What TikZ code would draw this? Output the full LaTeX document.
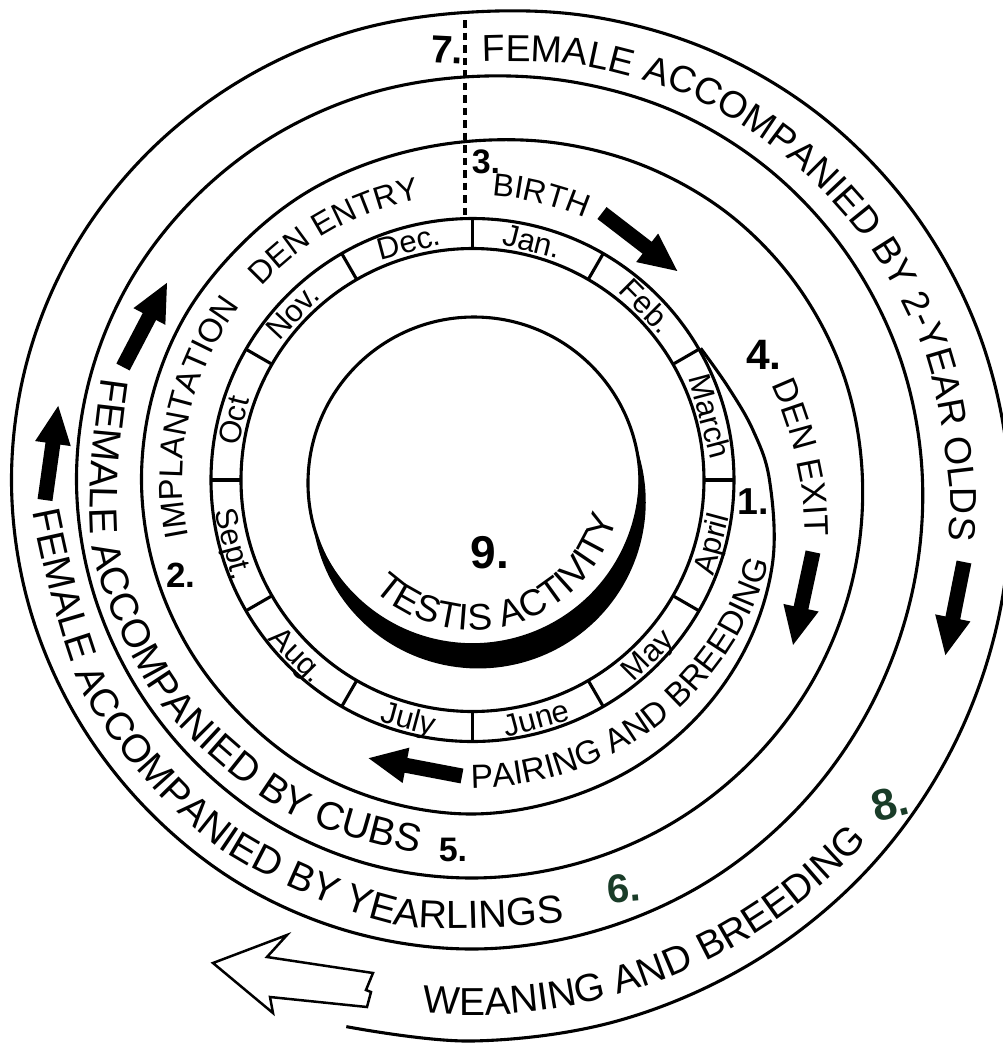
\documentclass[tikz,border=0pt]{standalone}
\usepackage{fontspec}
\setmainfont{Liberation Sans}
\usetikzlibrary{decorations.text}
\definecolor{handgreen}{RGB}{25,60,40}
\newcommand\fs[1]{\fontsize{#1}{#1}\selectfont}
\tikzset{
  ring/.style={line width=0.62pt, line join=round},
  month/.style={font=\fs{6.2}, inner sep=0pt, text height=4.4pt, text depth=0pt},
  hand/.style={font=\fs{#1}\bfseries, inner sep=0pt},
  curvetext/.style={decorate, decoration={text along path, text align=center, text={#1}}},
  blackarrow/.pic={\fill (0,-7.5) -- (57,-7.5) -- (57,-18) -- (95,0) -- (57,18) -- (57,7.5) -- (0,7.5) -- cycle;},
}
\begin{document}
\begin{tikzpicture}[x=0.2pt,y=0.2pt]
\useasboundingbox (-472.5,-565) rectangle (530.5,480);
\clip (-472.5,-565) rectangle (530.5,480);
\fill[white] (-472.5,-565) rectangle (530.5,480);
\coordinate (C) at (0,0);
% month ring
\draw[ring] (C) circle[radius=261.5];
\draw[ring] (C) circle[radius=231.5];
\foreach \a in {0,30,...,330} \draw[ring] (\a:231.5) -- (\a:261.5);
\node[month, rotate=-14] (mJan) at (76:246.5) {Jan.};
\node[month, rotate=-45] (mFeb) at (45:246.5) {Feb.};
\node[month, rotate=-75] (mMar) at (15:246.5) {March};
\node[month, rotate=75] (mApr) at (-15:246.5) {April};
\node[month, rotate=45] (mMay) at (-45:246.5) {May};
\node[month, rotate=15] (mJun) at (-75:246.5) {June};
\node[month, rotate=-15] (mJul) at (255:246.5) {July};
\node[month, rotate=-45] (mAug) at (225:246.5) {Aug.};
\node[month, rotate=-75] (mSep) at (195:246.5) {Sept.};
\node[month, rotate=76] (mOct) at (166:246.5) {Oct};
\node[month, rotate=47] (mNov) at (137:246.5) {Nov.};
\node[month, rotate=15] (mDec) at (105:246.5) {Dec.};
% spiral
\draw[ring] plot[smooth, tension=0.6] coordinates {(30:263.5) (20:272) (10:285) (0:297) (-15:311) (-30:320) (-45:326) (-60:330) (-75:332) (-90:334) (-105:333) (-120:332) (-135:330) (-150:330) (-165:330.5) (-180:331) (-195:331) (-210:331) (-225:330) (-240:332) (-255:334) (-270:339) (-285:348) (-300:359) (-315:370) (-330:379) (-345:386) (-360:390) (-375:393) (-390:395) (-405:396) (-420:397) (-435:397.5) (-450:398) (-465:398) (-480:397) (-495:395.5) (-510:395) (-525:395.5) (-540:396) (-555:396) (-570:396) (-585:396) (-600:397.5) (-615:400) (-630:403.5) (-645:411) (-660:421) (-675:430) (-690:438) (-705:445) (-720:450) (-735:454) (-750:458) (-765:462) (-780:465.5) (-795:467.5) (-810:469) (-825:468) (-840:466) (-855:463) (-870:461.5) (-885:461) (-900:461) (-915:461) (-930:461) (-945:461) (-960:462) (-975:464.5) (-990:468) (-1005:479) (-1020:492) (-1035:505) (-1050:517) (-1065:528) (-1080:537) (-1095:544) (-1110:550) (-1125:555) (-1140:558) (-1155:560) (-1170:561) (-1183:561)};
% dashed marker
\coordinate (dTop) at (-7.5,460);
\coordinate (dBot) at (-7.5,262);
\draw[line width=0.62pt, dash pattern=on 1.5pt off 1pt] (dTop) -- (dBot);
% curved texts
\path[curvetext={|\fs{7.5}|FEMALE ACCOMPANIED BY 2-YEAR OLDS}] plot[smooth] coordinates {(100:411) (89:418) (75:429) (60:441) (45:451) (30:461) (15:470) (0:477) (-8:480) (-17:484)};
\path[curvetext={|\fs{6.4}|BIRTH}] (96.5:285) arc[start angle=96.5, end angle=56.4, radius=285];
\path[curvetext={|\fs{6.4}|DEN ENTRY}] (147.5:286) arc[start angle=147.5, end angle=90.5, radius=286];
\path[curvetext={|\fs{6.6}|IMPLANTATION}] (202:290) arc[start angle=202, end angle=132.3, radius=290];
\path[curvetext={|\fs{6.8}|DEN EXIT}] plot[smooth] coordinates {(28:306) (18:313) (10:319) (0:328) (-9.7:337) (-19:345)};
\path[curvetext={|\fs{6.7}|PAIRING AND BREEDING}] (-100.5:308) arc[start angle=-100.5, end angle=-5.2, radius=308];
\path[curvetext={|\fs{7.9}|FEMALE ACCOMPANIED BY CUBS}] plot[smooth] coordinates {(154.5:384) (164.5:385) (190:386) (215:384) (240:381) (262.5:378) (272:377)};
\path[curvetext={|\fs{7.85}|FEMALE ACCOMPANIED BY YEARLINGS}] plot[smooth] coordinates {(174.6:439) (184.6:441) (210:444) (235:447) (260:451) (282.1:452) (291:453)};
\path[curvetext={|\fs{7.8}|WEANING AND BREEDING}] (-105.3:535) arc[start angle=-105.3, end angle=-32.5, radius=535];
% testis
\coordinate (T) at (1.5,-3);
\draw[ring] (T) circle[radius=166];
\begin{scope}[shift={(1.5,-3)}]
\fill plot[domain=0:1, samples=90, variable=\t] ({13.6-179.6*\t}:{166+20*sin(180*\t)}) -- plot[domain=0:1, samples=90, variable=\t] ({-166+179.6*\t}:{166-6*sin(180*\t)}) -- cycle;
\path[curvetext={|\fs{7.4}|TESTIS ACTIVITY}] (-145:147) arc[start angle=-145, end angle=-2, radius=147];
\end{scope}
% handwritten numbers
\node[hand=7.8, rotate=-3] (h7) at (-25.5,430) {7.};
\node[hand=6.8] (h3) at (13.5,318) {3.};
\node[hand=8.5] (h4) at (291.5,125) {4.};
\node[hand=7.5] (h1) at (280.5,-22) {1.};
\node[hand=7] (h2) at (-291.5,-95) {2.};
\node[hand=6.8] (h5) at (-19.5,-370) {5.};
\node[hand=8, text=handgreen, rotate=5] (h6) at (151,-408) {6.};
\node[hand=8.8, text=handgreen, rotate=15] (h8) at (417.5,-323.5) {8.};
\node[hand=9.2] (h9) at (17.5,-73) {9.};
% black arrows
\pic[rotate=-37.6] (arBirth) at (129.5,267) {blackarrow};
\pic[rotate=-102.1] (arExit) at (340.5,-72) {blackarrow};
\pic[rotate=-101.3] (arTwo) at (491.5,-82) {blackarrow};
\pic[rotate=169.2] (arPair) at (-10.5,-296) {blackarrow};
\pic[rotate=62.4] (arCubs) at (-349.5,113) {blackarrow};
\pic[rotate=82] (arYear) at (-427.5,-20) {blackarrow};
% open arrow
\draw[line width=0.5pt, line join=miter] (-259.5,-483) -- (-185.5,-455) -- (-205.5,-477) -- (-99.5,-493) -- (-106.5,-510) -- (-101.5,-512) -- (-105.5,-527) -- (-202.5,-517) -- (-199.5,-533) -- cycle;
\end{tikzpicture}
\end{document}
